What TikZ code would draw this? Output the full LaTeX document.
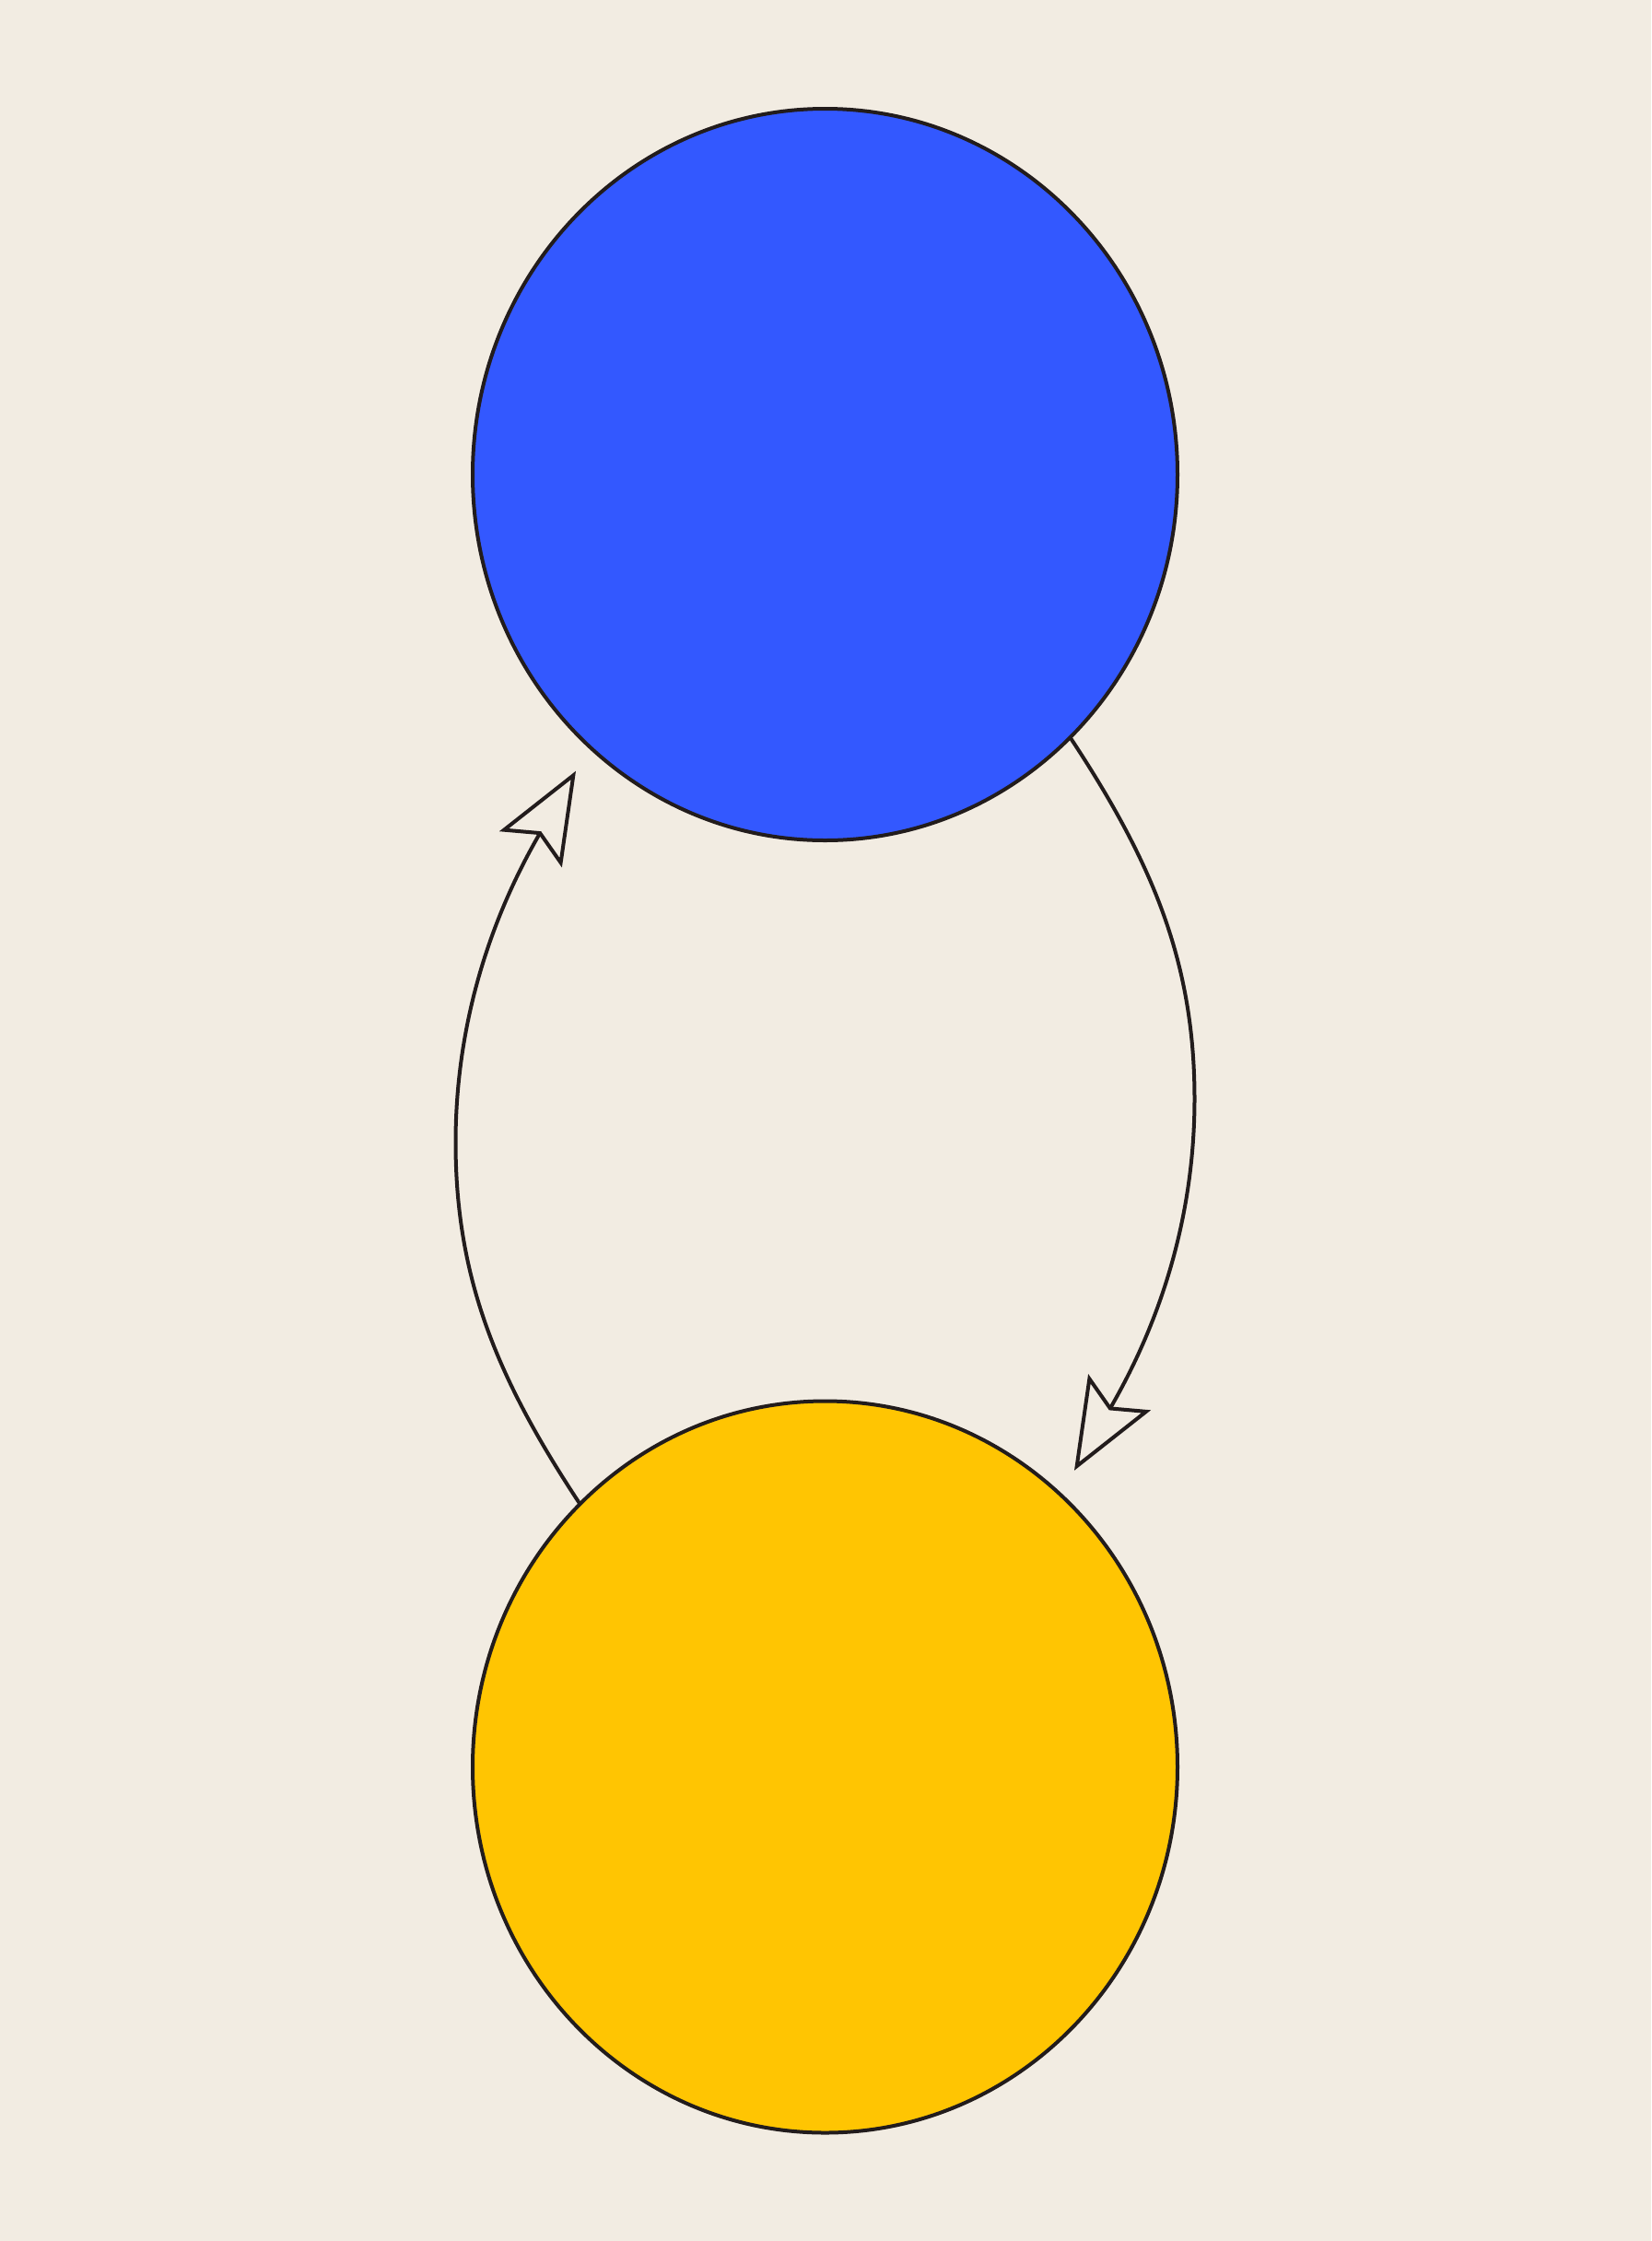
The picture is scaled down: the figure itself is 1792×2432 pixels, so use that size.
\documentclass[tikz,border=0pt]{standalone}
\usetikzlibrary{arrows.meta,shapes.geometric}
\definecolor{bg}{RGB}{242,236,226}
\definecolor{blueball}{RGB}{51,88,255}
\definecolor{yellowball}{RGB}{255,197,2}
\definecolor{ink}{RGB}{34,28,28}
\begin{document}
\begin{tikzpicture}[x=0.25pt,y=-0.25pt,
  ball/.style={ellipse,draw=ink,line width=1pt,minimum width=191.25pt,minimum height=198.5pt,inner sep=0pt,outer sep=0pt},
  link/.style={draw=ink,line width=1pt,-{Stealth[open,length=24.5pt,width=19.5pt,inset=4.5pt]}}]
\fill[bg] (0,0) rectangle (1792,2432);
\useasboundingbox (0,0) rectangle (1792,2432);
\node[ball,fill=blueball] (blue) at (895.5,515) {};
\node[ball,fill=yellowball] (yellow) at (895.5,1917.5) {};
\coordinate (midL) at (494.5,1240);
\coordinate (tipL) at (625,836.7);
\coordinate (midR) at (1296.5,1192.5);
\coordinate (tipR) at (1166,1595.8);
\draw[link] (yellow.133) .. controls (541.5,1499) and (494.5,1390) .. (midL)
  .. controls (494.5,1080) and (552.5,962.3) .. (tipL);
\draw[link] (blue.-47) .. controls (1249.5,933.5) and (1296.5,1042.5) .. (midR)
  .. controls (1296.5,1352.5) and (1238.5,1470.2) .. (tipR);
\end{tikzpicture}
\end{document}
